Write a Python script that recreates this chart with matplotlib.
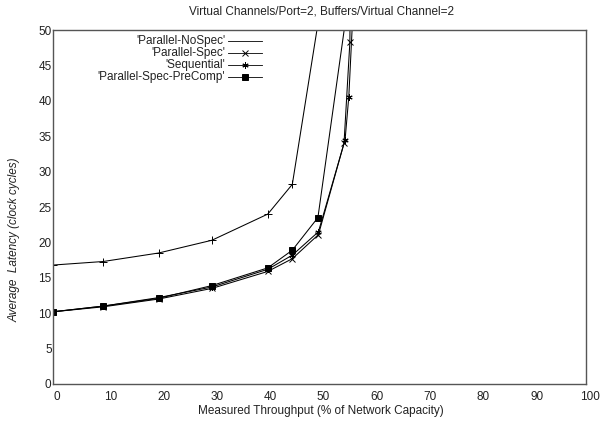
import matplotlib
matplotlib.use("Agg")
import matplotlib.pyplot as plt
import matplotlib.transforms as mtransforms
from matplotlib.lines import Line2D

plt.rcParams['font.family'] = ['Liberation Sans', 'DejaVu Sans']

title = "Virtual Channels/Port=2, Buffers/Virtual Channel=2"
xlabel = "Measured Throughput (% of Network Capacity)"
ylabel = "Average  Latency (clock cycles)"

nospec_x = [0.0, 9.4, 19.8, 29.8, 40.3, 44.9, 51.0]
nospec_y = [16.8, 17.3, 18.5, 20.3, 24.0, 28.2, 57.0]

spec_x = [0.0, 9.4, 19.8, 29.8, 40.3, 44.9, 49.8, 54.6, 55.7, 55.8]
spec_y = [10.2, 10.9, 12.0, 13.5, 15.9, 17.7, 21.1, 34.0, 48.3, 60.0]

seq_x = [0.0, 9.4, 19.8, 29.8, 40.3, 44.9, 49.8, 54.8, 55.5, 56.5]
seq_y = [10.2, 11.0, 12.2, 13.7, 16.2, 18.2, 21.5, 34.5, 40.6, 56.0]

pre_x = [0.0, 9.4, 19.8, 29.8, 40.3, 44.9, 49.7, 55.0]
pre_y = [10.2, 11.0, 12.1, 13.9, 16.4, 18.9, 23.5, 52.0]

names = ["'Parallel-NoSpec'", "'Parallel-Spec'", "'Sequential'", "'Parallel-Spec-PreComp'"]

xticks = [0, 10, 20, 30, 40, 50, 60, 70, 80, 90, 100]
yticks = [0, 5, 10, 15, 20, 25, 30, 35, 40, 45, 50]

fig = plt.figure(figsize=(6.11, 4.25), dpi=100)
ax = fig.add_axes([53/611, 1-384/425, 533/611, 354/425])

styles = [
    dict(marker='+', ms=5.5, mew=0.7),
    dict(marker='x', ms=4.5, mew=0.7),
    dict(marker=(6, 2, 0), ms=4.5, mew=0.7),
    dict(marker='s', ms=4.5, mew=0.7, mfc='black'),
]
series = [(nospec_x, nospec_y), (spec_x, spec_y), (seq_x, seq_y), (pre_x, pre_y)]
for (xs, ys), st in zip(series, styles):
    ax.plot(xs, ys, color='black', lw=0.75, clip_on=True, **st)

ax.set_xlim(0, 100)
ax.set_ylim(0, 50)
ax.set_xticks(xticks)
ax.set_yticks(yticks)
ax.tick_params(length=0, labelsize=8.5, colors='#222222')
ax.tick_params(axis='y', pad=1)
ax.tick_params(axis='x', pad=5)
off = mtransforms.ScaledTranslation(4/100, 0, fig.dpi_scale_trans)
for lab in ax.get_xticklabels():
    lab.set_transform(lab.get_transform() + off)
for sp in ax.spines.values():
    sp.set_color('#555555')
    sp.set_linewidth(1.0)

# gnuplot-style key: right-aligned text, sample line to the right
key_styles = [dict(marker='None'), styles[1], styles[2], styles[3]]
rows = [0.969, 0.935, 0.901, 0.867]
for name, st, yy in zip(names, key_styles, rows):
    ax.text(0.323, yy, name, transform=ax.transAxes, ha='right', va='center',
            fontsize=8.5, color='#222222')
    ax.add_line(Line2D([0.328, 0.392], [yy, yy], transform=ax.transAxes,
                       color='black', lw=0.6))
    if st.get('marker', 'None') != 'None':
        ax.add_line(Line2D([0.36], [yy], transform=ax.transAxes, color='black',
                           lw=0, **st))

fig.text(0.527, 0.972, title, ha='center', va='center', fontsize=8.5, color='#222222')
fig.text(0.525, 1-411/425, xlabel, ha='center', va='center', fontsize=8.5, color='#222222')
fig.text(15/611, 1-240/425, ylabel, ha='center', va='center', rotation=90,
         fontsize=8.5, style='italic', color='#222222')

fig.savefig("out.png", dpi=100)
